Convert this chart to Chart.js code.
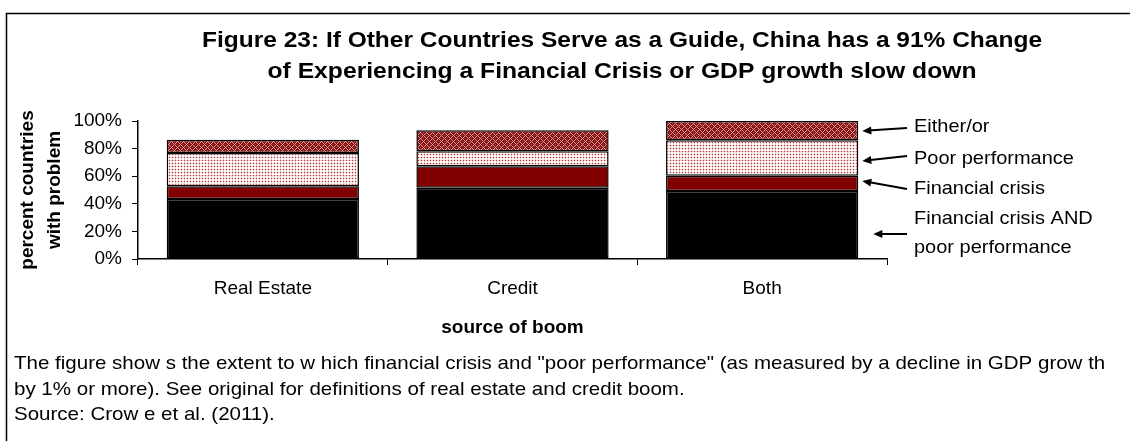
<!DOCTYPE html>
<html>
<head>
<meta charset="utf-8">
<script src="https://cdn.jsdelivr.net/npm/chart.js@4/dist/chart.umd.min.js"></script>
<style>
html,body{margin:0;padding:0;background:#fff;}
#wrap{position:relative;width:1130px;height:441px;}
</style>
</head>
<body>
<div id="wrap"><canvas id="c"></canvas></div>
<script>
// ---- data ----
const categories = ["Real Estate", "Credit", "Both"];
const crisisAndPoor = [43.5, 51.7, 49.3];
const crisisOnly = [9.2, 15.5, 11.1];
const poorOnly = [24.1, 10.8, 25.6];
const eitherOr = [9.7, 15.3, 14.0];
const seriesNames = ["Financial crisis AND poor performance", "Financial crisis", "Poor performance", "Either/or"];
const yTicks = [0, 20, 40, 60, 80, 100];

const titleLines = ["Figure 23: If Other Countries Serve as a Guide, China has a 91% Change",
                    "of Experiencing a Financial Crisis or GDP growth slow down"];
const yTitleLines = ["percent countries", "with problem"];
const xTitle = "source of boom";
const captionLines = ["The figure show s the extent to w hich financial crisis and \"poor performance\" (as measured by a decline in GDP grow th",
                      "by 1% or more). See original for definitions of real estate and credit boom.",
                      "Source: Crow e et al. (2011)."];
const annotLabels = [["Either/or"], ["Poor performance"], ["Financial crisis"], ["Financial crisis AND", "poor performance"]];

// ---- patterns ----
const patEither = (function(){
  const c = document.createElement('canvas'); c.width = 6; c.height = 6;
  const x = c.getContext('2d');
  x.fillStyle = '#850f0f'; x.fillRect(0,0,6,6);
  x.fillStyle = '#dc9c9c';
  [[0,0],[1,1],[2,2],[3,3],[4,4],[5,5],[5,1],[4,2],[2,4],[1,5]].forEach(p=>x.fillRect(p[0],p[1],1,1));
  x.fillStyle = '#b05252';
  [[3,0],[0,3]].forEach(p=>x.fillRect(p[0],p[1],1,1));
  return x.createPattern(c,'repeat');
})();
const patPoor = (function(){
  const c = document.createElement('canvas'); c.width = 3; c.height = 3;
  const x = c.getContext('2d');
  x.fillStyle = '#ffffff'; x.fillRect(0,0,3,3);
  x.fillStyle = '#f0cccc'; x.fillRect(0,1,3,1); x.fillRect(1,0,1,3);
  x.fillStyle = '#b03a3a'; x.fillRect(1,1,1,1);
  return x.createPattern(c,'repeat');
})();

const FONT = "'Liberation Sans', Arial, sans-serif";

function stretchText(ctx, t, x, y, sx) {
  ctx.save();
  ctx.translate(x, y);
  ctx.scale(sx, 1);
  ctx.fillText(t, 0, 0);
  ctx.restore();
}

// ---- overlay plugin: frame, titles, caption, annotations ----
const overlay = {
  id: 'overlay',
  afterDraw(chart) {
    const ctx = chart.ctx;
    const xs = chart.scales.x, ys = chart.scales.y;
    ctx.save();
    // frame
    ctx.strokeStyle = '#000'; ctx.lineWidth = 1.5;
    ctx.beginPath(); ctx.moveTo(6.5, 441); ctx.lineTo(6.5, 13.5); ctx.lineTo(1130, 13.5); ctx.stroke();
    // title
    ctx.fillStyle = '#000';
    ctx.textAlign = 'center'; ctx.textBaseline = 'alphabetic';
    ctx.font = "bold 22px " + FONT;
    titleLines.forEach((t, i) => {
      const w = ctx.measureText(t).width;
      const target = i === 0 ? 840 : 709;
      stretchText(ctx, t, 622, 47 + i * 31, target / w);
    });
    // y title
    ctx.font = "bold 19px " + FONT;
    const cy = (ys.top + ys.bottom) / 2;
    yTitleLines.forEach((t, i) => {
      ctx.save();
      ctx.translate(28 + i * 27, cy);
      ctx.rotate(-Math.PI / 2);
      ctx.textBaseline = 'middle';
      ctx.fillText(t, 0, 0);
      ctx.restore();
    });
    // x title
    ctx.font = "bold 19px " + FONT;
    ctx.textBaseline = 'middle';
    ctx.fillText(xTitle, (xs.left + xs.right) / 2, 328);
    // caption
    ctx.font = "19px " + FONT;
    ctx.textAlign = 'left'; ctx.textBaseline = 'alphabetic';
    captionLines.forEach((t, i) => {
      stretchText(ctx, t, 14, 369 + i * 25.5, 1.08);
    });
    // annotations: arrows point to the segments of the last bar
    const meta0 = chart.getDatasetMeta(3);
    const last = categories.length - 1;
    const barRight = meta0.data[last].x + meta0.data[last].width / 2;
    const textX = 914;
    ctx.font = "18.5px " + FONT;
    ctx.textBaseline = 'middle';
    const arrows = [
      {head:[barRight + 4, 131], tail:[907, 128], ty:[127]},
      {head:[barRight + 4, 161], tail:[907, 156], ty:[159]},
      {head:[barRight + 4, 181], tail:[907, 189], ty:[189]},
      {head:[barRight + 15, 234], tail:[907, 234], ty:[219, 248]}
    ];
    arrows.forEach((a, i) => {
      annotLabels[i].forEach((l, j) => stretchText(ctx, l, textX, a.ty[j], 1.08));
      const [hx, hy] = a.head, [tx, ty] = a.tail;
      const ang = Math.atan2(hy - ty, hx - tx);
      ctx.lineWidth = 2; ctx.strokeStyle = '#000';
      ctx.beginPath(); ctx.moveTo(tx, ty);
      ctx.lineTo(hx - 6 * Math.cos(ang), hy - 6 * Math.sin(ang)); ctx.stroke();
      ctx.beginPath();
      ctx.moveTo(hx, hy);
      ctx.lineTo(hx - 9 * Math.cos(ang) + 4 * Math.sin(ang), hy - 9 * Math.sin(ang) - 4 * Math.cos(ang));
      ctx.lineTo(hx - 9 * Math.cos(ang) - 4 * Math.sin(ang), hy - 9 * Math.sin(ang) + 4 * Math.cos(ang));
      ctx.closePath(); ctx.fillStyle = '#000'; ctx.fill();
    });
    ctx.restore();
  }
};

const common = {borderColor: '#000', borderWidth: 1.5, borderSkipped: false,
                barPercentage: 0.77, categoryPercentage: 1.0};

new Chart(document.getElementById('c'), {
  type: 'bar',
  data: {
    labels: categories,
    datasets: [
      Object.assign({label: seriesNames[0], data: crisisAndPoor, backgroundColor: '#000000'}, common),
      Object.assign({label: seriesNames[1], data: crisisOnly, backgroundColor: '#800000'}, common),
      Object.assign({label: seriesNames[2], data: poorOnly, backgroundColor: patPoor}, common),
      Object.assign({label: seriesNames[3], data: eitherOr, backgroundColor: patEither}, common)
    ]
  },
  options: {
    responsive: true,
    maintainAspectRatio: false,
    animation: false,
    events: [],
    layout: {padding: {top: 121, bottom: 142, left: 0, right: 243}},
    plugins: {legend: {display: false}, tooltip: {enabled: false}, title: {display: false}},
    scales: {
      x: {
        stacked: true,
        afterFit(s) { s.height = 40; },
        grid: {display: true, drawOnChartArea: false, drawTicks: true, tickLength: 6, color: '#000', lineWidth: 1, offset: true},
        border: {display: true, color: '#000', width: 1.5},
        ticks: {color: '#000', font: {family: FONT, size: 19}, padding: 12, maxRotation: 0}
      },
      y: {
        stacked: true,
        min: 0, max: 100,
        afterFit(s) { s.width = 138; },
        afterBuildTicks(s) { s.ticks = yTicks.map(v => ({value: v})); },
        grid: {display: true, drawOnChartArea: false, drawTicks: true, tickLength: 6, color: '#000', lineWidth: 1},
        border: {display: true, color: '#000', width: 1.5},
        ticks: {color: '#000', font: {family: FONT, size: 19}, padding: 10, callback: v => v + '%'}
      }
    }
  },
  plugins: [overlay]
});
</script>
</body>
</html>
